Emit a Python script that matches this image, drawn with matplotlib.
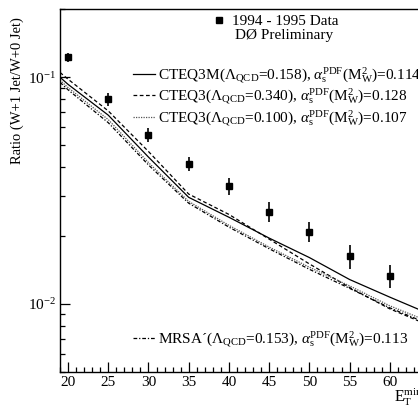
import matplotlib
matplotlib.use("Agg")
import matplotlib.pyplot as plt
from matplotlib.ticker import FixedLocator, NullFormatter, MultipleLocator
from matplotlib.lines import Line2D

plt.rcParams['font.family'] = ['Liberation Serif', 'DejaVu Serif']
plt.rcParams['mathtext.fontset'] = 'custom'
plt.rcParams['mathtext.rm'] = 'Liberation Serif'
plt.rcParams['mathtext.it'] = 'Liberation Serif:italic'
plt.rcParams['mathtext.bf'] = 'Liberation Serif:bold'

# data points
data_x = [20, 25, 30, 35, 40, 45, 50, 55, 60]
data_y = [0.1225, 0.080, 0.0557, 0.0415, 0.033, 0.0255, 0.0208, 0.0162, 0.0133]
data_err = [0.006, 0.0056, 0.0039, 0.0029, 0.0028, 0.0026, 0.0021, 0.0019, 0.0016]

# theory curves
curve_x = [19, 20, 25, 30, 35, 40, 45, 50, 55, 60, 65]
cteq3m = [0.100, 0.093, 0.068, 0.0444, 0.0295, 0.0241, 0.0195, 0.0160, 0.0128, 0.0107, 0.0090]
cteq3_hi = [0.105, 0.098, 0.071, 0.047, 0.0305, 0.0248, 0.0193, 0.0150, 0.0118, 0.0095, 0.0080]
cteq3_lo = [0.097, 0.090, 0.065, 0.042, 0.0283, 0.0222, 0.0178, 0.0145, 0.0120, 0.0098, 0.0083]
mrsa = [0.095, 0.088, 0.063, 0.041, 0.0278, 0.0218, 0.0175, 0.0142, 0.0117, 0.0096, 0.0081]

sub = r'($\Lambda_{\rm QCD}$='
alpha = r'), $\alpha_{\rm s}^{\rm PDF}({\rm M}_{\rm W}^2)$='
labels = [
    'CTEQ3M' + sub + '0.158' + alpha + '0.114',
    'CTEQ3' + sub + '0.340' + alpha + '0.128',
    'CTEQ3' + sub + '0.100' + alpha + '0.107',
    'MRSA\u00b4' + sub + '0.153' + alpha + '0.113',
]

fig = plt.figure(figsize=(4.18, 4.09), dpi=100)
ax = fig.add_axes([60/418, 37/409, 370/418, 363/409])

lw = 0.9
l1, = ax.plot(curve_x, cteq3m, color='black', lw=lw, ls='-')
l2, = ax.plot(curve_x, cteq3_hi, color='black', lw=lw, ls=(0, (3, 2)))
l3, = ax.plot(curve_x, cteq3_lo, color='#555555', lw=lw, ls=(0, (1, 1)))
l4, = ax.plot(curve_x, mrsa, color='black', lw=lw, ls=(0, (3, 1.5, 1, 1.5)))

ax.errorbar(data_x, data_y, yerr=data_err, fmt='s', color='black', ms=5,
            elinewidth=1.2, capsize=0)

ax.set_yscale('log')
ax.set_xlim(19, 65)
ax.set_ylim(0.005, 0.2)

ax.yaxis.set_major_locator(FixedLocator([0.01, 0.1]))
ax.set_yticklabels([r'$10^{-2}$', r'$10^{-1}$'])
ax.yaxis.set_minor_locator(FixedLocator([k * 10.0**e for e in (-3, -2, -1) for k in range(2, 10)]))
ax.yaxis.set_minor_formatter(NullFormatter())
ax.xaxis.set_major_locator(MultipleLocator(5))
ax.xaxis.set_minor_locator(MultipleLocator(1))

ax.tick_params(axis='both', which='major', direction='in', length=7, width=0.9,
               labelsize=11, pad=3, top=False, right=False)
ax.tick_params(axis='both', which='minor', direction='in', length=3.5, width=0.9,
               top=False, right=False)
for s in ax.spines.values():
    s.set_linewidth(1.0)

ax.set_ylabel('Ratio (W+1 Jet/W+0 Jet)', fontsize=10.5)
ax.yaxis.set_label_coords(-0.097, 0.775)

fig.text(394/418, 1 - 402/409, r'E$_{\rm T}^{\rm min}$', fontsize=11.5, ha='left', va='baseline')

fs = 11
# data legend
dleg = ax.legend([Line2D([], [], marker='s', color='black', ls='none', ms=5)],
                 ['1994 - 1995 Data'], loc='upper left',
                 bbox_to_anchor=(145/370, 1 + 2/363), frameon=False,
                 fontsize=fs, handlelength=0.8, handletextpad=0.5, borderpad=0)
ax.add_artist(dleg)
ax.text(175/370, 1 - 26/363, 'DØ Preliminary', transform=ax.transAxes,
        fontsize=fs, va='center', ha='left')

leg1 = ax.legend([l1, l2, l3], labels[:3], loc='upper left',
                 bbox_to_anchor=(65/370, 1 - 49/363), frameon=False,
                 fontsize=fs, handlelength=1.45, handletextpad=0.2,
                 labelspacing=0.12, borderpad=0)
ax.add_artist(leg1)
leg2 = ax.legend([l4], labels[3:], loc='upper left',
                 bbox_to_anchor=(65/370, 1 - 313/363), frameon=False,
                 fontsize=fs, handlelength=1.45, handletextpad=0.2, borderpad=0)

fig.savefig('out.png', dpi=100)
